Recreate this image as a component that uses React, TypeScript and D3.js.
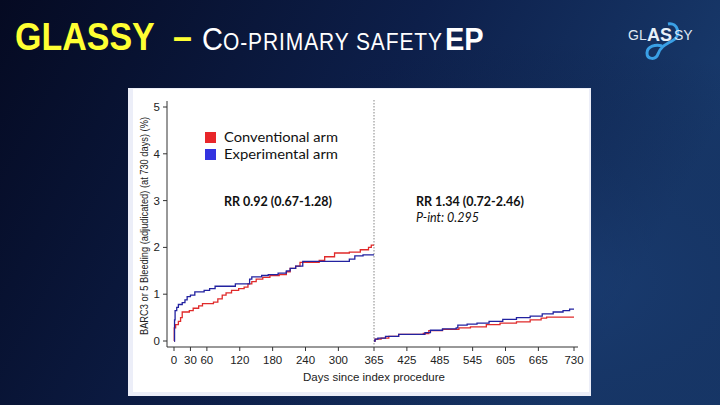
import React from "react";
import * as d3 from "d3";

type Pt = { d: number; v: number };

const xTicks = [0, 30, 60, 120, 180, 240, 300, 365, 425, 485, 545, 605, 665, 730];
const yTicks = [0, 1, 2, 3, 4, 5];

const conventionalYear1: Pt[] = [
  { d: 0, v: 0 }, { d: 0.5, v: 0.28 }, { d: 3, v: 0.35 }, { d: 8, v: 0.42 }, { d: 12, v: 0.5 },
  { d: 15, v: 0.62 }, { d: 28, v: 0.65 }, { d: 35, v: 0.7 }, { d: 45, v: 0.75 }, { d: 52, v: 0.8 },
  { d: 72, v: 0.83 }, { d: 80, v: 0.9 }, { d: 88, v: 0.98 }, { d: 95, v: 1.03 }, { d: 105, v: 1.08 },
  { d: 118, v: 1.12 }, { d: 128, v: 1.15 }, { d: 135, v: 1.22 }, { d: 142, v: 1.27 }, { d: 150, v: 1.32 },
  { d: 162, v: 1.36 }, { d: 175, v: 1.4 }, { d: 192, v: 1.42 }, { d: 205, v: 1.48 }, { d: 212, v: 1.55 },
  { d: 222, v: 1.6 }, { d: 230, v: 1.68 }, { d: 265, v: 1.72 }, { d: 275, v: 1.8 }, { d: 293, v: 1.88 },
  { d: 320, v: 1.9 }, { d: 340, v: 1.95 }, { d: 355, v: 2.0 }, { d: 360, v: 2.05 }, { d: 365, v: 2.05 },
];

const experimentalYear1: Pt[] = [
  { d: 0, v: 0 }, { d: 1, v: 0.45 }, { d: 2, v: 0.65 }, { d: 5, v: 0.72 }, { d: 8, v: 0.78 },
  { d: 15, v: 0.82 }, { d: 20, v: 0.88 }, { d: 24, v: 0.95 }, { d: 30, v: 0.98 }, { d: 38, v: 1.05 },
  { d: 55, v: 1.08 }, { d: 65, v: 1.12 }, { d: 75, v: 1.17 }, { d: 112, v: 1.22 }, { d: 138, v: 1.32 },
  { d: 142, v: 1.37 }, { d: 160, v: 1.4 }, { d: 172, v: 1.42 }, { d: 190, v: 1.45 }, { d: 205, v: 1.5 },
  { d: 212, v: 1.55 }, { d: 222, v: 1.6 }, { d: 235, v: 1.7 }, { d: 320, v: 1.75 }, { d: 330, v: 1.82 },
  { d: 345, v: 1.84 }, { d: 365, v: 1.84 },
];

const conventionalYear2: Pt[] = [
  { d: 365, v: 0 }, { d: 367, v: 0.04 }, { d: 378, v: 0.06 }, { d: 392, v: 0.1 }, { d: 410, v: 0.14 },
  { d: 455, v: 0.16 }, { d: 465, v: 0.22 }, { d: 490, v: 0.25 }, { d: 520, v: 0.28 }, { d: 541, v: 0.3 },
  { d: 570, v: 0.35 }, { d: 595, v: 0.38 }, { d: 625, v: 0.41 }, { d: 650, v: 0.45 }, { d: 670, v: 0.49 },
  { d: 680, v: 0.51 }, { d: 730, v: 0.51 },
];

const experimentalYear2: Pt[] = [
  { d: 365, v: 0 }, { d: 367, v: 0.04 }, { d: 372, v: 0.06 }, { d: 386, v: 0.1 }, { d: 410, v: 0.14 },
  { d: 458, v: 0.18 }, { d: 468, v: 0.23 }, { d: 490, v: 0.26 }, { d: 515, v: 0.28 }, { d: 518, v: 0.34 },
  { d: 535, v: 0.36 }, { d: 553, v: 0.38 }, { d: 575, v: 0.42 }, { d: 600, v: 0.46 }, { d: 625, v: 0.5 },
  { d: 650, v: 0.53 }, { d: 672, v: 0.58 }, { d: 692, v: 0.62 }, { d: 710, v: 0.65 }, { d: 722, v: 0.68 },
  { d: 730, v: 0.68 },
];

const legendLabels = ["Conventional arm", "Experimental arm"];
const legendColors = ["#e8262a", "#3333e0"];

export default function App() {
  const x = d3.scaleLinear().domain([0, 730]).range([174, 574]);
  const y = d3.scaleLinear().domain([0, 5]).range([341, 107]);
  const line = d3
    .line<Pt>()
    .x((p) => x(p.d))
    .y((p) => y(p.v))
    .curve(d3.curveStepAfter);

  const axisFont = "'Liberation Sans', Arial, sans-serif";
  const textFont = "Lato, 'Open Sans', sans-serif";

  return (
    <svg
      width={720}
      height={405}
      style={{ position: "absolute", left: 0, top: 0, display: "block" }}
    >
      <defs>
        <linearGradient id="bg" x1="0" y1="0" x2="1" y2="0.3">
          <stop offset="0%" stopColor="#050a22" />
          <stop offset="55%" stopColor="#0d1f4a" />
          <stop offset="100%" stopColor="#183a6c" />
        </linearGradient>
        <radialGradient id="glow" cx="0.75" cy="0.7" r="0.6">
          <stop offset="0%" stopColor="#1c4078" stopOpacity="0.6" />
          <stop offset="100%" stopColor="#0a1638" stopOpacity="0" />
        </radialGradient>
      </defs>
      <rect x={0} y={0} width={720} height={405} fill="url(#bg)" />
      <rect x={0} y={0} width={720} height={405} fill="url(#glow)" />

      {/* Title */}
      <text
        transform="translate(15,50) scale(1,1.15)"
        fontFamily={axisFont}
        fontWeight="bold"
        fill="#ffff33"
        fontSize={34}
      >
        GLASSY
      </text>
      <text
        transform="translate(173,50) scale(1,1.15)"
        fontFamily={axisFont}
        fontWeight="bold"
        fill="#ffff33"
        fontSize={34}
      >
        –
      </text>
      <text transform="translate(202,50) scale(1,1.1)" fontFamily={axisFont} fill="#ffffff">
        <tspan fontSize={29}>C</tspan>
        <tspan fontSize={21} letterSpacing={0.9}>O-PRIMARY SAFETY</tspan>
        <tspan fontSize={29} fontWeight="bold" dx={2}>EP</tspan>
      </text>

      {/* Logo */}
      <g>
        <path
          d="M668,24 C678,22 682,36 672,41 C664,45 660,48 658,54 C656,60 647,60 647,53 C647,46 656,44 662,46"
          fill="none"
          stroke="#3aa0e6"
          strokeWidth={3}
        />
        <text x={628} y={40} fontFamily={axisFont} fontSize={14} fill="#dfe8f2">GL</text>
        <text x={647} y={41} fontFamily={axisFont} fontSize={18} fontWeight="bold" fill="#e8f0f8">AS</text>
        <text x={674} y={40} fontFamily={axisFont} fontSize={14} fill="#dfe8f2">SY</text>
      </g>

      {/* Panel */}
      <rect x={128} y={88} width={463} height={308} fill="#eceef8" />
      <rect x={133} y={89} width={456} height={303} fill="#ffffff" />

      {/* Axes */}
      <line x1={167} x2={167} y1={101} y2={347} stroke="#333" strokeWidth={1} />
      <line x1={167} x2={578} y1={347} y2={347} stroke="#333" strokeWidth={1} />
      {yTicks.map((t) => (
        <g key={"y" + t}>
          <line x1={163} x2={167} y1={y(t)} y2={y(t)} stroke="#333" />
          <text
            x={160}
            y={y(t) + 4}
            textAnchor="end"
            fontFamily={axisFont}
            fontSize={11.5}
            fill="#222"
          >
            {t}
          </text>
        </g>
      ))}
      {xTicks.map((t) => (
        <g key={"x" + t}>
          <line x1={x(t)} x2={x(t)} y1={347} y2={351} stroke="#333" />
          <text
            x={x(t)}
            y={364}
            textAnchor="middle"
            fontFamily={axisFont}
            fontSize={11.5}
            fill="#222"
          >
            {t}
          </text>
        </g>
      ))}
      <text
        x={x(365)}
        y={381}
        textAnchor="middle"
        fontFamily={axisFont}
        fontSize={11.5}
        fill="#222"
      >
        Days since index procedure
      </text>
      <text
        transform="translate(148,226) rotate(-90)"
        textAnchor="middle"
        fontFamily={axisFont}
        fontSize={10.5}
        textLength={218}
        lengthAdjust="spacingAndGlyphs"
        fill="#222"
      >
        BARC3 or 5 Bleeding (adjudicated) (at 730 days) (%)
      </text>

      {/* Landmark line */}
      <line
        x1={x(365)}
        x2={x(365)}
        y1={100}
        y2={347}
        stroke="#9a9a9a"
        strokeWidth={1.2}
        strokeDasharray="1.5,1.5"
      />

      {/* Curves */}
      <path d={line(conventionalYear1) || ""} fill="none" stroke="#e02a2a" strokeWidth={1.3} />
      <path d={line(experimentalYear1) || ""} fill="none" stroke="#2222a0" strokeWidth={1.3} />
      <path d={line(conventionalYear2) || ""} fill="none" stroke="#e02a2a" strokeWidth={1.3} />
      <path d={line(experimentalYear2) || ""} fill="none" stroke="#2222a0" strokeWidth={1.3} />

      {/* Legend */}
      {legendLabels.map((l, i) => (
        <g key={l}>
          <rect x={205} y={132 + i * 17} width={11} height={11} fill={legendColors[i]} />
          <text
            x={224}
            y={142 + i * 17}
            fontFamily={textFont}
            fontSize={13.5}
            textLength={114}
            lengthAdjust="spacingAndGlyphs"
            fill="#111"
          >
            {l}
          </text>
        </g>
      ))}

      {/* Annotations */}
      <text x={224} y={206} fontFamily={textFont} fontSize={12.5} fontWeight="bold" fill="#111">
        RR 0.92 (0.67-1.28)
      </text>
      <text x={416} y={206} fontFamily={textFont} fontSize={12.5} fontWeight="bold" fill="#111">
        RR 1.34 (0.72-2.46)
      </text>
      <text x={416} y={222} fontFamily={textFont} fontSize={12.5} fontStyle="italic" fill="#111">
        P-int: 0.295
      </text>
    </svg>
  );
}
